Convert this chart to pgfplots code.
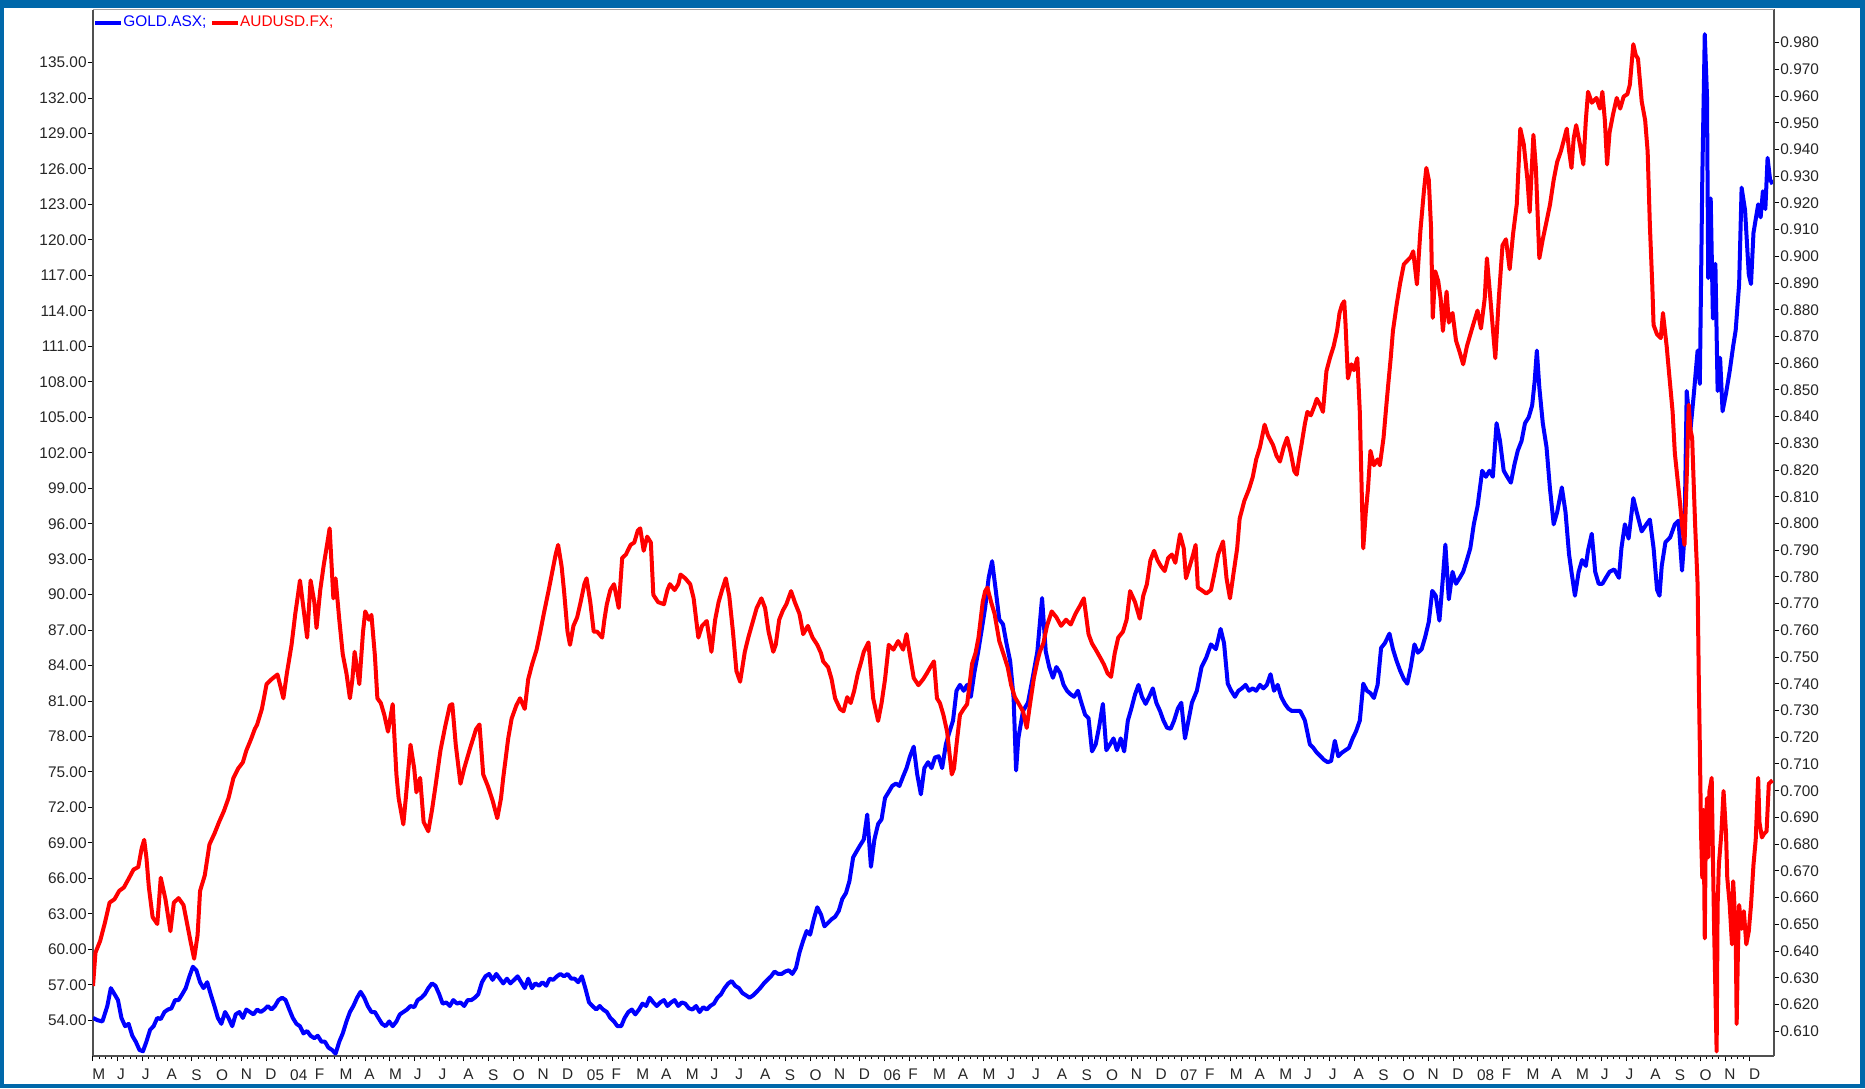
\documentclass[border=0pt]{standalone}
\usepackage{pgfplots}
\pgfplotsset{compat=1.18}
\usepackage{fontspec}
\setmainfont{Liberation Sans}
\definecolor{frameblue}{RGB}{0,104,170}
\definecolor{axgray}{RGB}{80,80,80}
\definecolor{topgray}{RGB}{165,165,165}
\newcommand{\tf}{\fontsize{7.7}{9}\selectfont}
\pgfplotsset{
  common/.style={
    scale only axis, width=840.5pt, height=523.25pt,
    xmin=0, xmax=67.98,
    tick align=outside,
    major tick length=2.5pt, minor tick length=1.5pt,
    tick style={black, line width=0.5pt},
    /pgf/number format/assume math mode=true,
    tick label style={font=\tf, text=black!85},
    scaled y ticks=false,
    axis line style={draw=axgray, line width=0.6pt},
  }
}
\begin{document}
\begin{tikzpicture}
\fill[frameblue] (-46.5pt,-16pt) rectangle (886pt,528pt);
\fill[white] (-44.5pt,-14pt) rectangle (883.5pt,524pt);
\begin{axis}[common,
  axis x line*=bottom, axis y line*=left,
  ymin=50.98, ymax=139.49,
  xtick={0,1,...,67},
  xticklabels={M,J,J,A,S,O,N,D,04,F,M,A,M,J,J,A,S,O,N,D,05,F,M,A,M,J,J,A,S,O,N,D,06,F,M,A,M,J,J,A,S,O,N,D,07,F,M,A,M,J,J,A,S,O,N,D,08,F,M,A,M,J,J,A,S,O,N,D},
  minor x tick num=3,
  xticklabel style={anchor=north west, inner sep=0pt, xshift=-0.5pt, yshift=-4pt},
  ytick={54,57,...,135},
  yticklabel style={/pgf/number format/fixed, /pgf/number format/fixed zerofill, /pgf/number format/precision=2, inner sep=0.5pt},
]
\addplot[blue, line width=2pt, line join=round] coordinates {
(0.00,54.20)(0.19,54.00)(0.38,53.90)(0.58,55.21)(0.72,56.72)(0.87,56.21)(1.01,55.71)(1.15,54.20)(1.30,53.50)(1.44,53.70)(1.59,52.69)(1.73,52.19)(1.88,51.49)(2.02,51.38)(2.16,52.19)(2.31,53.20)(2.45,53.50)(2.60,54.20)(2.74,54.10)(2.89,54.70)(3.03,54.91)(3.17,55.01)(3.32,55.71)(3.46,55.71)(3.61,56.21)(3.75,56.72)(3.90,57.72)(4.04,58.53)(4.18,58.23)(4.33,57.22)(4.47,56.72)(4.62,57.22)(4.76,56.21)(4.91,55.21)(5.05,54.20)(5.19,53.70)(5.34,54.70)(5.48,54.20)(5.63,53.50)(5.77,54.50)(5.92,54.70)(6.06,54.20)(6.20,54.91)(6.35,54.70)(6.49,54.50)(6.64,54.91)(6.78,54.70)(6.93,54.91)(7.07,55.21)(7.22,54.91)(7.36,55.21)(7.50,55.71)(7.65,55.91)(7.79,55.71)(7.94,54.91)(8.08,54.20)(8.23,53.70)(8.37,53.50)(8.51,52.89)(8.66,53.09)(8.80,52.69)(8.95,52.49)(9.09,52.69)(9.24,52.19)(9.38,52.19)(9.52,51.69)(9.67,51.49)(9.81,51.18)(9.96,52.19)(10.10,52.89)(10.25,53.90)(10.39,54.70)(10.53,55.21)(10.68,55.91)(10.82,56.41)(10.97,55.91)(11.11,55.21)(11.26,54.70)(11.40,54.70)(11.54,54.20)(11.69,53.70)(11.83,53.50)(11.98,53.90)(12.12,53.50)(12.27,53.90)(12.41,54.50)(12.55,54.70)(12.70,54.91)(12.84,55.21)(12.99,55.11)(13.13,55.71)(13.28,55.91)(13.42,56.21)(13.56,56.72)(13.71,57.12)(13.85,56.92)(14.00,56.21)(14.14,55.41)(14.29,55.51)(14.43,55.21)(14.57,55.71)(14.72,55.41)(14.86,55.51)(15.01,55.21)(15.15,55.71)(15.30,55.71)(15.44,55.91)(15.58,56.21)(15.73,57.22)(15.87,57.72)(16.02,57.92)(16.16,57.42)(16.31,57.92)(16.45,57.52)(16.59,57.12)(16.74,57.52)(16.88,57.12)(17.03,57.42)(17.17,57.72)(17.32,57.22)(17.46,56.72)(17.60,57.52)(17.75,56.72)(17.89,57.12)(18.04,56.92)(18.18,57.22)(18.33,56.92)(18.47,57.52)(18.61,57.42)(18.76,57.72)(18.90,57.92)(19.05,57.72)(19.19,57.92)(19.34,57.52)(19.48,57.52)(19.62,57.22)(19.77,57.72)(19.91,56.72)(20.06,55.51)(20.20,55.21)(20.35,54.91)(20.49,55.21)(20.63,54.91)(20.78,54.70)(20.92,54.20)(21.07,53.90)(21.21,53.50)(21.36,53.50)(21.50,54.20)(21.65,54.70)(21.79,54.91)(21.93,54.50)(22.08,54.91)(22.22,55.41)(22.37,55.21)(22.51,55.91)(22.66,55.51)(22.80,55.21)(22.94,55.51)(23.09,55.71)(23.23,55.21)(23.38,55.51)(23.52,55.71)(23.67,55.21)(23.81,55.51)(23.95,55.41)(24.10,55.01)(24.24,54.91)(24.39,55.21)(24.53,54.70)(24.68,55.11)(24.82,54.91)(24.96,55.21)(25.11,55.41)(25.25,55.91)(25.40,56.21)(25.54,56.72)(25.69,57.12)(25.83,57.32)(25.97,56.92)(26.12,56.72)(26.26,56.31)(26.41,56.11)(26.55,55.91)(26.70,56.11)(26.84,56.41)(26.98,56.72)(27.13,57.12)(27.27,57.42)(27.42,57.72)(27.56,58.12)(27.71,57.92)(27.85,57.92)(27.99,58.12)(28.14,58.23)(28.28,57.92)(28.43,58.43)(28.57,59.73)(28.72,60.74)(28.86,61.55)(29.00,61.24)(29.15,62.55)(29.29,63.56)(29.44,62.95)(29.58,61.95)(29.73,62.25)(29.87,62.55)(30.01,62.75)(30.16,63.26)(30.30,64.26)(30.45,64.76)(30.59,65.77)(30.74,67.78)(30.88,68.29)(31.02,68.79)(31.17,69.29)(31.31,71.40)(31.46,66.98)(31.60,69.29)(31.75,70.60)(31.89,71.00)(32.03,72.81)(32.18,73.32)(32.32,73.82)(32.47,74.02)(32.61,73.82)(32.76,74.62)(32.90,75.33)(33.04,76.33)(33.19,77.14)(33.33,74.82)(33.48,73.11)(33.62,75.33)(33.77,75.83)(33.91,75.33)(34.05,76.23)(34.20,76.33)(34.34,75.33)(34.49,77.34)(34.63,78.35)(34.78,79.35)(34.92,81.87)(35.06,82.37)(35.21,81.87)(35.35,82.37)(35.50,81.36)(35.64,83.38)(35.79,85.09)(35.93,86.90)(36.08,88.91)(36.22,91.42)(36.36,92.83)(36.51,90.32)(36.65,87.90)(36.80,87.50)(36.94,85.89)(37.09,84.38)(37.23,81.26)(37.33,75.13)(37.42,77.84)(37.61,80.16)(37.81,80.86)(38.00,82.97)(38.19,85.19)(38.38,89.71)(38.53,85.19)(38.67,83.88)(38.82,82.97)(38.96,83.88)(39.11,83.38)(39.25,82.37)(39.39,81.87)(39.54,81.56)(39.68,81.36)(39.83,81.87)(39.97,80.86)(40.12,79.85)(40.26,79.55)(40.40,76.74)(40.55,77.34)(40.69,78.85)(40.84,80.76)(40.98,76.84)(41.13,77.34)(41.27,77.84)(41.41,76.84)(41.56,77.84)(41.70,76.74)(41.85,79.35)(41.99,80.36)(42.14,81.56)(42.28,82.37)(42.42,81.36)(42.57,80.76)(42.71,81.36)(42.86,82.07)(43.00,80.86)(43.15,80.16)(43.29,79.35)(43.43,78.75)(43.58,78.65)(43.72,79.35)(43.87,80.36)(44.01,80.86)(44.16,77.84)(44.30,79.35)(44.44,80.86)(44.64,81.87)(44.83,83.88)(45.02,84.68)(45.21,85.79)(45.41,85.39)(45.60,87.10)(45.74,85.89)(45.89,82.47)(46.03,81.87)(46.18,81.36)(46.32,81.87)(46.46,82.07)(46.61,82.37)(46.75,81.87)(46.90,82.07)(47.04,81.87)(47.19,82.37)(47.33,82.07)(47.47,82.37)(47.62,83.27)(47.76,81.87)(47.91,82.37)(48.05,81.36)(48.20,80.76)(48.34,80.36)(48.48,80.16)(48.63,80.16)(48.82,80.16)(49.01,79.35)(49.21,77.34)(49.35,77.04)(49.49,76.64)(49.64,76.33)(49.78,76.03)(49.93,75.83)(50.07,75.93)(50.22,77.64)(50.36,76.33)(50.51,76.64)(50.65,76.84)(50.79,77.04)(50.94,77.84)(51.08,78.45)(51.23,79.35)(51.37,82.47)(51.52,81.87)(51.66,81.67)(51.80,81.26)(51.95,82.37)(52.09,85.49)(52.24,85.89)(52.43,86.70)(52.57,85.39)(52.72,84.38)(52.86,83.58)(53.01,82.87)(53.15,82.47)(53.29,83.88)(53.44,85.79)(53.58,85.09)(53.73,85.39)(53.87,86.39)(54.02,87.70)(54.16,90.32)(54.30,89.91)(54.45,87.80)(54.59,91.42)(54.69,94.24)(54.83,89.61)(54.98,91.93)(55.12,90.92)(55.27,91.42)(55.41,91.93)(55.56,92.93)(55.70,93.94)(55.84,95.95)(55.99,97.46)(56.18,100.48)(56.33,99.97)(56.47,100.48)(56.61,99.97)(56.76,104.50)(56.90,102.99)(57.05,100.48)(57.19,99.97)(57.34,99.47)(57.48,100.98)(57.62,102.19)(57.77,102.99)(57.91,104.50)(58.06,105.00)(58.20,106.01)(58.30,108.02)(58.39,110.64)(58.49,107.52)(58.63,104.50)(58.78,102.49)(58.92,98.97)(59.07,95.95)(59.21,96.96)(59.40,99.07)(59.55,96.96)(59.69,93.44)(59.79,91.93)(59.93,89.91)(60.08,91.93)(60.22,92.93)(60.37,92.43)(60.46,93.74)(60.61,95.15)(60.75,91.93)(60.89,90.92)(61.04,90.92)(61.18,91.42)(61.33,91.93)(61.52,92.13)(61.71,91.42)(61.81,93.94)(61.95,95.95)(62.10,94.74)(62.29,98.16)(62.43,96.96)(62.63,95.35)(62.82,95.95)(62.96,96.35)(63.11,93.94)(63.25,90.42)(63.35,89.91)(63.44,92.43)(63.59,94.44)(63.78,94.84)(63.97,95.95)(64.12,96.25)(64.26,92.03)(64.36,94.94)(64.45,107.22)(64.60,103.90)(64.74,107.02)(64.89,110.64)(64.98,107.82)(65.08,125.22)(65.18,137.40)(65.27,132.17)(65.32,116.77)(65.42,123.51)(65.51,113.35)(65.61,117.98)(65.70,107.22)(65.80,110.03)(65.90,105.51)(66.04,107.02)(66.19,108.93)(66.33,111.04)(66.43,112.35)(66.57,116.27)(66.67,124.42)(66.81,122.51)(66.96,117.08)(67.05,116.27)(67.15,120.60)(67.34,123.01)(67.44,121.91)(67.53,124.12)(67.63,122.61)(67.72,126.94)(67.82,125.12)(67.92,124.72)
};
\end{axis}
\begin{axis}[common,
  axis y line*=right, axis x line=none,
  ymin=0.6007, ymax=0.9924,
  ytick={0.61,0.62,0.63,0.64,0.65,0.66,0.67,0.68,0.69,0.70,0.71,0.72,0.73,0.74,0.75,0.76,0.77,0.78,0.79,0.80,0.81,0.82,0.83,0.84,0.85,0.86,0.87,0.88,0.89,0.90,0.91,0.92,0.93,0.94,0.95,0.96,0.97,0.98},
  yticklabel style={/pgf/number format/fixed, /pgf/number format/fixed zerofill, /pgf/number format/precision=3, inner sep=0.5pt},
  legend style={at={(0,1)}, anchor=north west, draw=none, fill=none, inner sep=0pt, outer sep=0pt, font=\tf, legend columns=-1, nodes={inner sep=0.2pt}, /tikz/every even column/.append style={column sep=1.5pt}, yshift=-3pt},
  legend image code/.code={\draw[#1,line width=2pt] (0pt,0pt) -- (13pt,0pt);},
]
\addlegendimage{blue}
\addlegendentry{\textcolor{blue}{GOLD.ASX;}}
\addplot[red, line width=2pt, line join=round] coordinates {
(0.00,0.6269)(0.10,0.6394)(0.29,0.6438)(0.48,0.6505)(0.67,0.6581)(0.87,0.6594)(1.06,0.6625)(1.25,0.6638)(1.44,0.6670)(1.64,0.6705)(1.83,0.6714)(1.97,0.6785)(2.07,0.6816)(2.16,0.6750)(2.26,0.6638)(2.41,0.6527)(2.60,0.6501)(2.74,0.6674)(2.93,0.6594)(3.13,0.6474)(3.27,0.6581)(3.46,0.6598)(3.66,0.6572)(3.80,0.6505)(3.94,0.6438)(4.09,0.6371)(4.23,0.6460)(4.33,0.6625)(4.52,0.6683)(4.71,0.6799)(4.91,0.6839)(5.10,0.6883)(5.29,0.6923)(5.48,0.6972)(5.68,0.7048)(5.87,0.7083)(6.06,0.7106)(6.20,0.7150)(6.40,0.7195)(6.54,0.7230)(6.64,0.7248)(6.83,0.7306)(7.02,0.7399)(7.22,0.7417)(7.46,0.7435)(7.70,0.7346)(7.84,0.7439)(8.03,0.7546)(8.18,0.7662)(8.27,0.7720)(8.37,0.7787)(8.51,0.7684)(8.66,0.7573)(8.80,0.7787)(8.95,0.7706)(9.04,0.7609)(9.19,0.7751)(9.33,0.7844)(9.48,0.7929)(9.57,0.7982)(9.72,0.7720)(9.81,0.7795)(9.96,0.7640)(10.10,0.7511)(10.25,0.7439)(10.39,0.7346)(10.49,0.7417)(10.58,0.7520)(10.77,0.7399)(10.92,0.7595)(11.01,0.7671)(11.16,0.7640)(11.26,0.7658)(11.40,0.7506)(11.50,0.7346)(11.64,0.7328)(11.78,0.7284)(11.93,0.7221)(12.12,0.7324)(12.27,0.7061)(12.36,0.6972)(12.55,0.6874)(12.65,0.6972)(12.84,0.7172)(12.99,0.7083)(13.08,0.6994)(13.23,0.7048)(13.37,0.6883)(13.56,0.6848)(13.71,0.6928)(13.85,0.7017)(14.05,0.7150)(14.24,0.7239)(14.43,0.7319)(14.53,0.7324)(14.67,0.7172)(14.86,0.7026)(15.01,0.7083)(15.25,0.7159)(15.49,0.7230)(15.63,0.7248)(15.78,0.7061)(15.97,0.7017)(16.16,0.6963)(16.35,0.6897)(16.50,0.6972)(16.59,0.7048)(16.79,0.7195)(16.93,0.7270)(17.12,0.7319)(17.27,0.7346)(17.46,0.7306)(17.60,0.7417)(17.75,0.7471)(17.94,0.7528)(18.09,0.7595)(18.23,0.7662)(18.42,0.7747)(18.57,0.7818)(18.71,0.7884)(18.81,0.7920)(18.95,0.7840)(19.05,0.7747)(19.19,0.7595)(19.29,0.7546)(19.43,0.7617)(19.58,0.7649)(19.72,0.7706)(19.87,0.7773)(19.96,0.7795)(20.11,0.7706)(20.25,0.7595)(20.39,0.7595)(20.59,0.7573)(20.68,0.7640)(20.78,0.7698)(20.92,0.7751)(21.07,0.7773)(21.26,0.7684)(21.40,0.7871)(21.55,0.7884)(21.74,0.7920)(21.89,0.7929)(22.03,0.7973)(22.13,0.7982)(22.27,0.7898)(22.41,0.7951)(22.56,0.7929)(22.66,0.7733)(22.85,0.7706)(23.09,0.7698)(23.23,0.7751)(23.33,0.7773)(23.52,0.7751)(23.67,0.7773)(23.76,0.7809)(23.95,0.7795)(24.15,0.7773)(24.29,0.7720)(24.48,0.7573)(24.63,0.7617)(24.82,0.7635)(25.01,0.7520)(25.16,0.7640)(25.30,0.7706)(25.44,0.7751)(25.59,0.7795)(25.73,0.7729)(25.88,0.7595)(26.02,0.7448)(26.17,0.7408)(26.36,0.7520)(26.50,0.7573)(26.65,0.7622)(26.84,0.7684)(27.03,0.7720)(27.18,0.7684)(27.32,0.7595)(27.51,0.7520)(27.61,0.7546)(27.75,0.7640)(27.90,0.7675)(28.04,0.7698)(28.23,0.7747)(28.38,0.7706)(28.57,0.7662)(28.72,0.7586)(28.91,0.7617)(29.10,0.7573)(29.29,0.7546)(29.44,0.7515)(29.53,0.7484)(29.73,0.7462)(29.87,0.7417)(30.01,0.7346)(30.21,0.7306)(30.35,0.7297)(30.50,0.7350)(30.64,0.7328)(30.78,0.7373)(30.93,0.7439)(31.07,0.7484)(31.17,0.7520)(31.36,0.7555)(31.55,0.7346)(31.75,0.7261)(31.89,0.7328)(32.03,0.7417)(32.18,0.7546)(32.37,0.7528)(32.56,0.7560)(32.76,0.7528)(32.90,0.7586)(33.04,0.7506)(33.19,0.7422)(33.38,0.7395)(33.57,0.7417)(33.72,0.7439)(33.86,0.7462)(34.01,0.7484)(34.13,0.7346)(34.25,0.7328)(34.39,0.7284)(34.54,0.7221)(34.73,0.7061)(34.82,0.7083)(34.92,0.7172)(35.06,0.7284)(35.21,0.7306)(35.35,0.7324)(35.55,0.7475)(35.69,0.7515)(35.81,0.7573)(35.98,0.7706)(36.08,0.7747)(36.17,0.7760)(36.32,0.7706)(36.46,0.7662)(36.65,0.7560)(36.84,0.7506)(36.99,0.7462)(37.13,0.7395)(37.28,0.7350)(37.42,0.7328)(37.61,0.7297)(37.76,0.7235)(37.90,0.7328)(38.05,0.7422)(38.19,0.7484)(38.29,0.7520)(38.43,0.7551)(38.58,0.7617)(38.77,0.7671)(38.96,0.7649)(39.15,0.7617)(39.35,0.7640)(39.54,0.7622)(39.73,0.7662)(39.92,0.7693)(40.07,0.7720)(40.26,0.7586)(40.40,0.7551)(40.55,0.7528)(40.74,0.7497)(40.89,0.7471)(41.03,0.7439)(41.17,0.7426)(41.32,0.7515)(41.46,0.7573)(41.65,0.7595)(41.80,0.7640)(41.94,0.7747)(42.14,0.7706)(42.33,0.7644)(42.47,0.7729)(42.62,0.7773)(42.76,0.7862)(42.91,0.7898)(43.05,0.7862)(43.19,0.7840)(43.34,0.7822)(43.48,0.7871)(43.63,0.7884)(43.77,0.7853)(43.96,0.7960)(44.11,0.7907)(44.20,0.7795)(44.35,0.7840)(44.49,0.7884)(44.59,0.7920)(44.68,0.7760)(44.83,0.7751)(45.02,0.7738)(45.21,0.7751)(45.36,0.7818)(45.50,0.7884)(45.70,0.7933)(45.84,0.7795)(45.98,0.7720)(46.13,0.7818)(46.27,0.7907)(46.37,0.8018)(46.56,0.8085)(46.75,0.8129)(46.90,0.8174)(47.04,0.8240)(47.19,0.8285)(47.38,0.8370)(47.52,0.8329)(47.72,0.8294)(47.86,0.8254)(48.00,0.8232)(48.15,0.8285)(48.29,0.8321)(48.44,0.8263)(48.58,0.8196)(48.68,0.8183)(48.77,0.8240)(48.87,0.8294)(49.01,0.8374)(49.11,0.8418)(49.25,0.8405)(49.40,0.8441)(49.49,0.8467)(49.64,0.8441)(49.74,0.8418)(49.88,0.8570)(50.02,0.8619)(50.17,0.8663)(50.31,0.8721)(50.41,0.8788)(50.51,0.8819)(50.60,0.8832)(50.65,0.8752)(50.75,0.8543)(50.89,0.8596)(50.99,0.8574)(51.13,0.8619)(51.23,0.8418)(51.32,0.8071)(51.37,0.7907)(51.47,0.8040)(51.56,0.8129)(51.66,0.8272)(51.80,0.8218)(51.95,0.8240)(52.04,0.8218)(52.19,0.8321)(52.28,0.8418)(52.38,0.8521)(52.48,0.8619)(52.57,0.8721)(52.72,0.8819)(52.86,0.8899)(53.01,0.8970)(53.15,0.8984)(53.29,0.8997)(53.39,0.9019)(53.54,0.8895)(53.68,0.9095)(53.82,0.9242)(53.92,0.9331)(54.02,0.9286)(54.11,0.9108)(54.18,0.8770)(54.28,0.8944)(54.40,0.8908)(54.50,0.8841)(54.59,0.8721)(54.74,0.8868)(54.83,0.8752)(54.98,0.8788)(55.12,0.8685)(55.27,0.8641)(55.41,0.8596)(55.56,0.8663)(55.70,0.8708)(55.84,0.8752)(55.99,0.8797)(56.13,0.8730)(56.28,0.8841)(56.37,0.8993)(56.47,0.8886)(56.57,0.8774)(56.71,0.8619)(56.85,0.8841)(57.00,0.9041)(57.14,0.9064)(57.29,0.8952)(57.43,0.9086)(57.58,0.9197)(57.72,0.9478)(57.86,0.9420)(58.01,0.9286)(58.10,0.9166)(58.25,0.9455)(58.35,0.9331)(58.49,0.8993)(58.63,0.9064)(58.78,0.9130)(58.92,0.9193)(59.07,0.9286)(59.21,0.9353)(59.36,0.9393)(59.50,0.9442)(59.60,0.9478)(59.69,0.9397)(59.79,0.9331)(59.88,0.9442)(59.98,0.9491)(60.13,0.9420)(60.27,0.9344)(60.37,0.9509)(60.46,0.9616)(60.61,0.9575)(60.80,0.9593)(60.94,0.9553)(61.04,0.9616)(61.14,0.9509)(61.23,0.9344)(61.33,0.9464)(61.47,0.9531)(61.62,0.9593)(61.76,0.9553)(61.90,0.9598)(62.05,0.9607)(62.15,0.9642)(62.29,0.9794)(62.39,0.9753)(62.48,0.9740)(62.63,0.9580)(62.77,0.9509)(62.87,0.9393)(62.96,0.9117)(63.06,0.8886)(63.11,0.8743)(63.25,0.8708)(63.40,0.8694)(63.49,0.8788)(63.64,0.8663)(63.73,0.8570)(63.88,0.8418)(63.97,0.8263)(64.07,0.8174)(64.17,0.8085)(64.26,0.7996)(64.36,0.7920)(64.45,0.8174)(64.53,0.8445)(64.60,0.8352)(64.67,0.8321)(64.74,0.8129)(64.79,0.7996)(64.89,0.7773)(64.94,0.7406)(64.98,0.7172)(65.03,0.6839)(65.08,0.6674)(65.13,0.6928)(65.18,0.6447)(65.22,0.6839)(65.27,0.6972)(65.32,0.6750)(65.37,0.6999)(65.46,0.7048)(65.51,0.6750)(65.56,0.6474)(65.66,0.6024)(65.70,0.6572)(65.75,0.6723)(65.85,0.6839)(65.94,0.6999)(66.04,0.6839)(66.09,0.6674)(66.19,0.6572)(66.28,0.6425)(66.33,0.6661)(66.43,0.6483)(66.47,0.6127)(66.52,0.6394)(66.57,0.6572)(66.67,0.6483)(66.76,0.6549)(66.86,0.6425)(66.96,0.6474)(67.05,0.6572)(67.15,0.6723)(67.24,0.6816)(67.34,0.7048)(67.39,0.6883)(67.49,0.6825)(67.58,0.6839)(67.68,0.6848)(67.77,0.7026)(67.92,0.7039)
};
\addlegendentry{\textcolor{red}{AUDUSD.FX;}}
\end{axis}
\draw[topgray, line width=0.6pt] (0,523.25pt) -- (840.5pt,523.25pt);
\pgfresetboundingbox
\path[use as bounding box] (-46.5pt,-16pt) rectangle (886pt,528pt);
\end{tikzpicture}
\end{document}
